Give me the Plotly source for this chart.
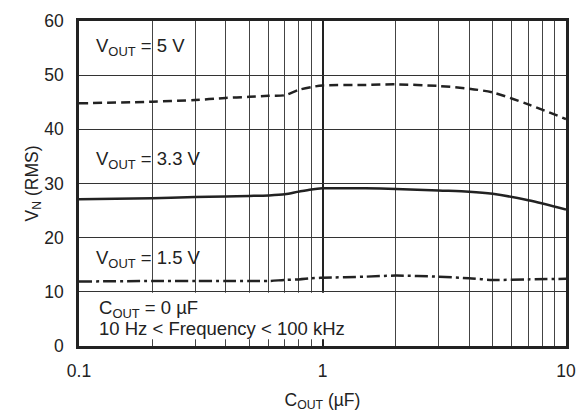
import plotly.graph_objects as go

cout = [0.1, 0.2, 0.3, 0.4, 0.5, 0.6, 0.7, 0.8, 0.9, 1, 1.5, 2, 3, 4, 5, 7, 10]
vn_5v0 = [44.8, 45.1, 45.4, 45.8, 46.0, 46.2, 46.3, 47.3, 47.8, 48.1, 48.2, 48.3, 48.0, 47.5, 46.8, 44.6, 41.9]
vn_3v3 = [27.1, 27.3, 27.5, 27.6, 27.7, 27.8, 28.0, 28.5, 28.9, 29.1, 29.1, 29.0, 28.7, 28.5, 28.1, 26.9, 25.2]
vn_1v5 = [11.9, 12.0, 12.0, 12.0, 12.0, 12.0, 12.2, 12.3, 12.5, 12.6, 12.8, 13.0, 12.8, 12.5, 12.2, 12.3, 12.4]

x_ticks = [0.1, 1, 10]
x_tick_text = ["0.1", "1", "10"]
x_minor = [0.2, 0.3, 0.4, 0.5, 0.6, 0.7, 0.8, 0.9, 2, 3, 4, 5, 6, 7, 8, 9]
y_ticks = [0, 10, 20, 30, 40, 50, 60]

FONT = "Liberation Sans, Arial, sans-serif"
LC = "#222222"

fig = go.Figure()
fig.add_trace(go.Scatter(x=cout, y=vn_5v0, mode="lines", line=dict(color=LC, width=2.5, dash="9px,5px", shape="spline", smoothing=0.8)))
fig.add_trace(go.Scatter(x=cout, y=vn_3v3, mode="lines", line=dict(color=LC, width=2.5, shape="spline", smoothing=0.8)))
fig.add_trace(go.Scatter(x=cout, y=vn_1v5, mode="lines", line=dict(color=LC, width=2.5, dash="13px,4px,3px,4px", shape="spline", smoothing=0.8)))

fig.add_shape(type="rect", xref="paper", yref="y", x0=0.006, x1=0.545, y0=1.25, y1=9.85,
              fillcolor="white", line=dict(width=0), layer="above")

ann = dict(xref="paper", yref="y", showarrow=False, xanchor="left", yanchor="middle",
           font=dict(family=FONT, size=18.5, color="#222"))
fig.add_annotation(x=0.03, y=55.2, text="V<sub>OUT</sub> = 5 V", **ann)
fig.add_annotation(x=0.03, y=34.3, text="V<sub>OUT</sub> = 3.3 V", **ann)
fig.add_annotation(x=0.03, y=16.0, text="V<sub>OUT</sub> = 1.5 V", **ann)
fig.add_annotation(x=0.036, y=6.85, text="C<sub>OUT</sub> = 0 µF", **ann)
fig.add_annotation(x=0.036, y=3.3, text="10 Hz < Frequency < 100 kHz", **ann)

fig.update_layout(
    width=587, height=418,
    margin=dict(l=79, r=11, t=13, b=70),
    plot_bgcolor="white", paper_bgcolor="white",
    showlegend=False,
    font=dict(family=FONT, size=17.5, color="#222"),
)
fig.update_xaxes(
    type="log", range=[-1, 1],
    tickvals=x_ticks, ticktext=x_tick_text, ticks="",
    ticklabelstandoff=7,
    showgrid=True, gridcolor="#222", gridwidth=2,
    minor=dict(tickvals=x_minor, showgrid=True, gridcolor="#444", gridwidth=1, ticks=""),
    showline=True, linecolor="#222", linewidth=2.5, mirror=True,
    title=dict(text="C<sub>OUT</sub> (µF)", standoff=14, font=dict(size=17.5)),
    tickfont=dict(size=17.5),
)
fig.update_yaxes(
    range=[0, 60], tickvals=y_ticks, ticks="",
    ticklabelstandoff=9,
    showgrid=True, gridcolor="#333", gridwidth=1, zeroline=False,
    showline=True, linecolor="#222", linewidth=2.5, mirror=True,
    title=dict(text="V<sub>N</sub> (RMS)", standoff=2, font=dict(size=17.5)),
    tickfont=dict(size=17.5),
)

fig.write_html("out.html")
